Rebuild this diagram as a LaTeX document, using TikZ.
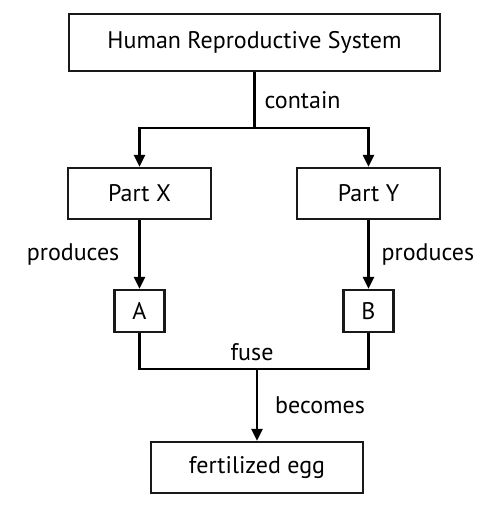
\documentclass[tikz,border=0pt]{standalone}
\usepackage{fontspec}
\setmainfont{PT Sans}
\usetikzlibrary{arrows.meta,positioning}

\begin{document}
\begin{tikzpicture}[x=1pt,y=1pt,
  line width=2.4pt,
  box/.style={draw=black!90,rectangle,inner sep=0pt,font=\fontsize{24}{28}\selectfont},
  lbl/.style={inner sep=0pt,font=\fontsize{24}{28}\selectfont},
  arrow/.style={-{Triangle[length=12pt,width=11pt]}}]
\useasboundingbox (0,0) rectangle (501,507);

% Define the boxes.
\node[box,minimum width=371pt,minimum height=57pt] (system) at (254.5,464.5) {Human Reproductive System};
\node[box,minimum width=143pt,minimum height=51pt] (partx) at (139.5,313.5) {Part X};
\node[box,minimum width=143pt,minimum height=51pt] (party) at (368.5,313.5) {Part Y};
\node[box,minimum width=50pt,minimum height=42pt] (cella) at (139.5,196) {A};
\node[box,minimum width=50pt,minimum height=42pt] (cellb) at (368.5,196) {B};
\node[box,minimum width=212pt,minimum height=51pt] (egg) at (257,39.5) {fertilized egg};

% Define the branch points.
\coordinate (split) at (system.south |- 0,379);
\coordinate (fuse) at (egg.north |- 0,138);

\draw (system.south) -- node[lbl,anchor=west,xshift=9pt] (contain) {contain} (split);
\draw[arrow] (split) -| (partx.north);
\draw[arrow] (split) -| (party.north);

\draw[arrow] (partx.south) -- node[lbl,anchor=east,xshift=-19pt] (prodx) {produces} (cella.north);
\draw[arrow] (party.south) -- node[lbl,anchor=west,xshift=12pt] (prody) {produces} (cellb.north);

\draw (cella.south) |- (fuse) -| (cellb.south);
\node[lbl,anchor=south,xshift=-5pt,yshift=7pt] (fuselbl) at (fuse) {fuse};

\draw[arrow] (fuse) -- node[lbl,anchor=west,xshift=17pt] (becomes) {becomes} (egg.north);

\end{tikzpicture}
\end{document}
